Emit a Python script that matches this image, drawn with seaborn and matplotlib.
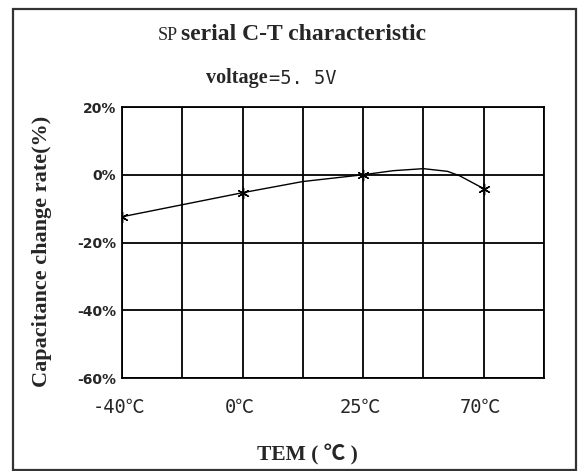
import numpy as np
import pandas as pd
import seaborn as sns
import matplotlib.pyplot as plt
from matplotlib.patches import Rectangle

# Data (x in grid-column units, ticks at 0, 2, 4, 6)
tick_pos = [0, 2, 4, 6]
tick_labels = ['-40℃', '0℃', '25℃', '70℃']
y_ticks = [20, 0, -20, -40, -60]
y_tick_labels = ['20%', '0%', '-20%', '-40%', '-60%']

# measured points (marked with asterisks)
point_x = [0, 2, 4, 6]
point_y = [-12.4, -5.3, 0.0, -4.1]

# drawn curve
curve_x = [0, 2, 3, 4, 4.5, 5, 5.4, 5.6, 6]
curve_y = [-12.4, -5.3, -2.0, 0.0, 1.2, 1.8, 1.0, -0.3, -4.1]

curve = pd.DataFrame({'x': curve_x, 'y': curve_y})
points = pd.DataFrame({'x': point_x, 'y': point_y})

sns.set_style('white')
plt.rcParams['font.family'] = ['Liberation Serif', 'DejaVu Serif']

fig = plt.figure(figsize=(5.79, 4.71), dpi=100)
ax = fig.add_axes([122 / 579, 1 - 378 / 471, 422 / 579, 271 / 471])

sns.lineplot(data=curve, x='x', y='y', ax=ax, color='black', lw=1.0)
sns.scatterplot(data=points, x='x', y='y', ax=ax, color='black',
                marker=(6, 2, 0), s=60, linewidth=1.0, zorder=5)

ax.set_xlim(0, 7)
ax.set_ylim(-60, 20)
ax.set_xticks(range(8))
ax.set_xticklabels(['' for _ in range(8)])
ax.set_yticks(y_ticks)
ax.set_yticklabels(y_tick_labels, fontsize=10, fontweight='bold',
                   family=['DejaVu Sans Condensed', 'DejaVu Sans'])
ax.grid(True, color='black', lw=1.3)
for s in ax.spines.values():
    s.set_color('black')
    s.set_linewidth(1.3)
ax.tick_params(length=0, pad=4)
ax.set_xlabel('')
ax.set_ylabel('')

for p, lab in zip(tick_pos, tick_labels):
    ax.text(p - 0.05, -66, lab, ha='center', va='top', fontsize=13.5,
            family=['DejaVu Sans Mono', 'Noto Sans CJK SC'])

# titles
fig.text(178 / 579, 1 - 35 / 471, 'SP', ha='right', va='center', fontsize=13)
fig.text(181 / 579, 1 - 35 / 471, 'serial C-T characteristic', ha='left',
         va='center', fontsize=17, fontweight='bold')
fig.text(268 / 579, 1 - 78 / 471, 'voltage', ha='right', va='center',
         fontsize=14.5, fontweight='bold')
fig.text(269 / 579, 1 - 78 / 471, '=5. 5V', ha='left', va='center',
         fontsize=13.5, family='DejaVu Sans Mono')

fig.text(42 / 579, 1 - 251 / 471, 'Capacitance change rate(%)',
         rotation=90, ha='center', va='center', fontsize=16,
         fontweight='bold')
fig.text(307 / 579, 1 - 455 / 471, 'TEM ( ℃ )', ha='center', va='center',
         fontsize=15.5, fontweight='bold',
         family=['Liberation Serif', 'Noto Sans CJK SC'])

# outer frame
fig.patches.append(Rectangle((13 / 579, 0.002), 563 / 579, 1 - 9 / 471 - 0.002,
                             transform=fig.transFigure, fill=False,
                             edgecolor='#333333', lw=1.6))

plt.savefig('out.png', dpi=100)
plt.close()
